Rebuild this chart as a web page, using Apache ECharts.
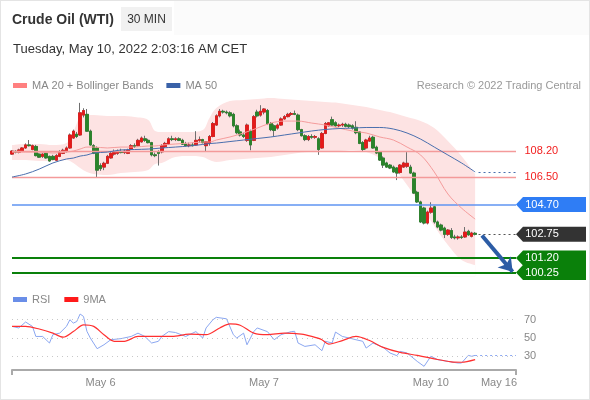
<!DOCTYPE html>
<html><head><meta charset="utf-8">
<script src="https://cdn.jsdelivr.net/npm/echarts@6/dist/echarts.min.js"></script>
<style>
html,body{margin:0;padding:0;background:#fff}
#c{width:590px;height:400px;position:relative}
#f{position:absolute;left:0;top:0;width:590px;height:400px;box-sizing:border-box;border:1px solid #e4e4e4;pointer-events:none}
</style>
</head><body><div id="c"></div><div id="f"></div>
<script>
// ---- data ----
const N_CAT = 149;
const tickIdx = [26, 74, 123, 143];
const tickText = ['May 6', 'May 7', 'May 10', 'May 16'];

const openP = [108.00,108.18,108.12,108.20,108.40,108.60,108.30,108.50,108.00,107.85,108.05,107.85,107.85,107.60,107.85,108.05,108.20,108.40,109.05,109.30,109.25,110.55,110.60,109.50,108.55,108.40,107.25,107.15,107.40,107.75,108.00,108.05,108.15,108.10,108.05,108.30,108.55,108.55,108.80,109.00,108.90,108.75,107.95,108.15,108.15,108.50,108.65,109.00,108.95,109.00,108.90,108.65,108.55,108.60,108.60,108.90,108.95,108.55,108.70,109.15,109.90,110.50,110.80,110.75,110.70,110.60,109.85,109.45,109.25,108.90,109.50,108.90,110.75,110.55,110.75,110.85,110.00,109.85,109.70,109.90,110.30,110.45,110.60,110.65,110.55,109.60,109.20,108.95,109.15,109.10,109.00,108.40,109.35,109.85,110.25,110.05,109.85,109.90,109.95,109.90,109.85,109.75,109.45,108.75,108.40,108.85,109.10,108.45,108.13,107.74,107.42,107.28,107.15,107.09,106.80,107.15,107.20,107.15,106.76,105.50,104.87,104.47,103.49,104.20,104.55,103.56,103.36,103.16,102.75,103.00,102.58,102.52,102.58,102.58,102.95,102.62,102.82];
const closeP = [108.20,108.12,108.27,108.40,108.60,108.55,108.55,107.90,107.80,108.00,107.75,107.55,107.65,107.90,108.15,108.25,108.40,109.25,109.50,109.15,110.70,110.85,109.50,108.60,108.05,106.95,107.05,107.40,107.85,108.05,108.10,108.15,108.10,108.20,108.25,108.55,108.50,108.90,109.05,108.90,108.75,107.95,107.90,108.05,108.55,108.70,109.00,108.95,109.00,108.90,108.65,108.55,108.60,108.55,108.90,108.95,108.75,108.80,109.15,110.00,110.50,110.80,110.75,110.70,110.50,109.85,109.40,109.25,109.15,109.90,108.60,110.45,110.50,110.80,110.95,110.00,109.60,109.55,109.90,110.30,110.45,110.60,110.65,110.60,109.60,109.20,108.95,109.15,109.10,109.15,108.30,109.35,110.00,110.05,109.90,109.85,109.90,109.95,109.82,109.80,109.70,109.40,108.70,108.30,108.92,109.05,108.40,108.07,107.61,107.28,107.15,107.09,106.83,106.76,107.28,107.42,107.40,106.76,105.45,104.87,103.56,103.49,104.21,104.47,103.56,103.23,103.03,102.75,103.03,102.55,102.52,102.58,102.55,102.90,102.72,102.84,102.75];
const lowP = [107.95,108.05,108.05,108.15,108.35,108.50,108.25,107.85,107.75,107.75,107.70,107.50,107.60,107.55,107.80,108.00,108.10,108.35,109.00,109.05,109.20,110.40,109.45,108.55,108.00,106.45,106.90,106.95,107.35,107.70,107.90,107.95,108.05,108.00,108.00,108.25,108.40,108.50,108.75,108.80,108.70,107.85,107.80,107.25,108.05,108.40,108.60,108.85,108.85,108.85,108.60,108.50,108.45,108.50,108.55,108.75,108.70,108.20,108.55,109.10,109.85,110.40,110.65,110.60,110.40,109.75,109.30,109.15,109.05,108.80,108.25,108.85,110.40,110.45,110.60,109.90,109.50,109.15,109.60,109.85,110.25,110.40,110.50,110.55,109.50,109.15,108.85,108.85,109.00,109.00,107.95,108.35,109.30,109.80,109.85,109.80,109.75,109.78,109.75,109.70,109.60,109.30,108.65,108.20,108.30,108.80,108.35,108.00,107.55,107.09,107.10,107.02,106.78,106.30,106.72,107.10,107.10,106.70,105.40,104.80,103.50,103.40,103.40,104.10,103.45,103.15,102.95,102.51,102.65,102.45,102.42,102.40,102.45,102.52,102.65,102.55,102.68];
const highP = [108.25,108.25,108.35,108.45,108.70,108.92,108.62,108.60,108.05,108.05,108.15,107.90,107.95,108.00,108.25,108.35,108.50,109.35,109.60,109.45,111.35,111.00,110.95,109.60,108.65,108.50,107.40,107.50,107.95,108.15,108.30,108.30,108.35,108.30,108.35,108.65,108.70,109.00,109.15,109.20,109.00,108.80,108.10,108.25,108.65,108.80,109.10,109.20,109.10,109.10,109.00,108.80,108.75,108.75,109.50,109.15,109.00,108.85,109.25,110.10,110.60,110.95,110.90,110.85,110.80,110.70,109.95,109.60,109.40,110.00,109.60,110.55,110.90,111.20,111.00,110.95,110.10,109.95,110.00,110.40,110.55,110.70,110.75,110.85,110.65,109.65,109.30,109.25,109.30,109.25,109.10,109.45,110.10,110.10,110.45,110.15,110.00,110.05,110.05,110.00,109.95,110.15,109.50,108.85,109.00,109.20,109.20,108.55,108.20,107.85,107.50,107.35,107.25,107.15,107.35,107.50,108.13,107.30,106.85,105.60,104.95,104.55,104.30,104.85,104.62,103.65,103.45,103.25,103.10,103.16,102.72,102.68,102.70,103.23,103.05,102.92,102.90];

const bandIdx = [0,4,8,12,16,18,20,22,24,28,32,36,40,42,44,48,52,56,58,60,64,68,72,76,80,84,88,92,96,100,104,108,112,116,120,124,128,132,136];
const upperBand = [108.59,108.66,108.66,108.59,108.72,109.44,110.42,110.55,110.55,110.49,110.49,110.42,110.23,109.51,109.44,109.44,109.44,109.57,110.36,111.01,111.47,111.54,111.60,111.67,111.60,111.54,111.47,111.40,111.34,111.21,111.08,110.88,110.69,110.42,110.16,109.70,108.85,107.87,106.70];
const lowerBand = [107.61,107.61,107.55,107.55,107.61,107.42,107.09,106.83,106.70,106.63,106.76,106.83,106.96,107.35,107.42,107.81,107.87,107.81,107.61,107.48,107.61,107.68,107.74,107.81,107.94,108.07,108.13,108.13,108.20,108.27,108.13,107.74,107.09,105.98,104.67,103.29,102.05,101.07,100.74];
const ma20 = [108.13,108.13,108.13,108.07,108.13,108.20,108.33,108.46,108.46,108.40,108.46,108.46,108.53,108.53,108.59,108.66,108.72,108.79,108.79,108.92,109.12,109.38,109.70,110.03,110.16,110.16,110.03,109.90,109.70,109.51,109.38,109.12,108.92,108.46,107.94,106.83,105.39,104.47,103.75];
const ma50 = [106.50,106.70,107.02,107.42,107.68,107.74,107.87,107.94,108.07,108.13,108.27,108.30,108.33,108.36,108.40,108.46,108.53,108.63,108.69,108.72,108.82,108.92,109.02,109.12,109.25,109.38,109.51,109.61,109.67,109.70,109.74,109.74,109.64,109.38,108.98,108.46,107.94,107.42,106.83];
const ma50Projection = 106.83;

const rsiIdx = [0,2,4,6,7,9,11,12,14,16,17,18,19,20,21,22,23,25,27,29,32,35,37,39,41,43,44,46,48,51,54,56,57,59,60,63,65,66,68,69,71,72,75,77,79,82,83,84,86,89,91,92,94,95,97,99,101,103,104,106,109,111,113,114,116,119,121,123,125,128,131,132,134,135,136];
const rsiVal = [62.7,61,67.5,62.7,51.7,51.7,44.5,53.6,55.3,62.7,70,66.3,68,76.2,73.6,57.3,50,38.3,42.6,48.1,49.3,51.7,55.3,51.7,44.5,46.4,51.7,57,56,51.7,57,50,61,70,72.6,71,53.6,50,55.3,42.6,57,61,57,48.1,53.6,57,57.3,44.5,40.8,42.6,36.1,46.4,44.5,56.5,51.7,50,48.1,46.4,39,44.5,39.7,33.6,30.7,35.4,33.6,24.4,19,30,26.3,24.4,22.6,22.6,31,30,31];
const rsiMaIdx = [0,4,8,12,15,18,21,24,27,30,33,37,41,47,52,57,61,64,67,71,75,80,85,88,91,93,97,101,105,109,114,119,124,129,132,136];
const rsiMaVal = [62.7,62.7,59.8,55.3,50.9,57,64.4,62.7,53.6,46.4,46.4,51.7,51.7,51.7,54.2,53.6,61,65.5,64,55.3,53.6,55.3,54.2,51.7,48.1,43.4,47.2,51.7,47.2,39.7,34.2,31,27.2,23.9,23.5,26.3];
const rsiProjection = 31;

const resistance = [108.20, 106.50];
const pivot = 104.70;
const lastPrice = 102.75;
const support = [101.20, 100.25];
const rsiLevels = [70, 50, 30];

// ---- build ----
const FONT = '"Liberation Sans", Arial, sans-serif';
const categories = Array.from({length: N_CAT}, (_, i) => String(i));
const lastIdx = openP.length - 1;
const endIdx = N_CAT - 1;
const pairs = (xs, ys) => xs.map((x, i) => [x, ys[i]]);
const ohlc = openP.map((o, i) => [o, closeP[i], lowP[i], highP[i]]);
const bodies = openP.map((o, i) => [o, closeP[i], Math.min(o, closeP[i]), Math.max(o, closeP[i])]);

const TAG = 'path://M0,7.5L7,0L70,0L70,15L7,15Z';
function tag(v, color) {
  return {
    coord: [endIdx, v], value: v, symbol: TAG, symbolSize: [70, 15], symbolOffset: [35, 0],
    itemStyle: {color: color},
    label: {show: true, position: 'inside', offset: [-9, 0], color: '#fff', fontSize: 11, fontFamily: FONT,
      formatter: () => v.toFixed(2)}
  };
}
function textTag(v, color) {
  return {
    coord: [endIdx, v], value: v, symbol: 'rect', symbolSize: [1, 1], itemStyle: {color: 'rgba(0,0,0,0)'},
    label: {show: true, position: 'right', distance: 8, color: color, fontSize: 11, fontFamily: FONT,
      formatter: () => v.toFixed(2)}
  };
}

const chart = echarts.init(document.getElementById('c'), null, {renderer: 'canvas'});
chart.setOption({
  animation: false,
  backgroundColor: '#fff',
  textStyle: {fontFamily: FONT},
  graphic: [
    {type: 'rect', shape: {x: 174, y: 1, width: 415, height: 34}, style: {fill: '#fbfbfb'}, silent: true, z: -10},
    {type: 'text', x: 12, y: 20, style: {text: 'Crude Oil (WTI)', font: 'bold 14px ' + FONT, fill: '#333', verticalAlign: 'middle'}},
    {type: 'rect', shape: {x: 121, y: 7, width: 51, height: 24}, style: {fill: '#f1f1f1'}},
    {type: 'text', x: 146.5, y: 19.5, style: {text: '30 MIN', font: '12px ' + FONT, fill: '#333', align: 'center', verticalAlign: 'middle'}},
    {type: 'text', x: 13, y: 49, style: {text: 'Tuesday, May 10, 2022 2:03:16 AM CET', font: '13px ' + FONT, fill: '#333', verticalAlign: 'middle'}},
    {type: 'text', x: 581, y: 86, style: {text: 'Research \u00a9 2022 Trading Central', font: '11px ' + FONT, fill: '#999', align: 'right', verticalAlign: 'middle'}}
  ],
  legend: [
    {data: [{name: 'MA 20 + Bollinger Bands', itemStyle: {color: '#ff8080'}}, {name: 'MA 50', itemStyle: {color: '#3a62a8'}}],
     left: 13, top: 80, icon: 'rect', itemWidth: 14, itemHeight: 5, itemGap: 13, padding: 0, selectedMode: false,
     textStyle: {color: '#888', fontSize: 11, fontFamily: FONT}},
    {data: [{name: 'RSI', itemStyle: {color: '#6a8ee8'}}, {name: '9MA', itemStyle: {color: '#ff1a1a'}}],
     left: 13, top: 294, icon: 'rect', itemWidth: 14, itemHeight: 5, itemGap: 14, padding: 0, selectedMode: false,
     textStyle: {color: '#888', fontSize: 11, fontFamily: FONT}}
  ],
  grid: [
    {left: 12, right: 74, top: 96, height: 180.4},
    {left: 12, right: 74, top: 306, height: 64}
  ],
  xAxis: [
    {type: 'category', gridIndex: 0, data: categories, boundaryGap: false, show: false},
    {type: 'category', gridIndex: 1, data: categories, boundaryGap: false,
     axisLine: {show: true, lineStyle: {color: '#aaa', width: 2}},
     axisTick: {show: true, length: 5, interval: (i) => i === 0 || i === endIdx, lineStyle: {color: '#aaa', width: 2}},
     axisLabel: {show: true, color: '#888', fontSize: 11, fontFamily: FONT, margin: 7,
       interval: (i) => tickIdx.indexOf(i) >= 0,
       formatter: (v, i) => tickText[tickIdx.indexOf(i)] || ''},
     splitLine: {show: false}}
  ],
  yAxis: [
    {type: 'value', gridIndex: 0, min: 100, max: 111.8, show: false},
    {type: 'value', gridIndex: 1, min: 15, max: 85, show: false}
  ],
  series: [
    {type: 'line', name: 'bandUpper', xAxisIndex: 0, yAxisIndex: 0, data: pairs(bandIdx, upperBand),
     smooth: 0.35, symbol: 'none', silent: true, lineStyle: {opacity: 0}, areaStyle: {color: '#fde3e3', opacity: 1, origin: 'start'}, z: 1},
    {type: 'line', name: 'bandLower', xAxisIndex: 0, yAxisIndex: 0, data: pairs(bandIdx, lowerBand),
     smooth: 0.35, symbol: 'none', silent: true, lineStyle: {opacity: 0}, areaStyle: {color: '#ffffff', opacity: 1, origin: 'start'}, z: 1},
    {type: 'line', name: 'MA 20 + Bollinger Bands', xAxisIndex: 0, yAxisIndex: 0, data: pairs(bandIdx, ma20),
     smooth: 0.35, symbol: 'none', lineStyle: {color: '#f59c9c', width: 1}, itemStyle: {color: '#ff8080'}, z: 5},
    {type: 'line', name: 'MA 50', xAxisIndex: 0, yAxisIndex: 0, data: pairs(bandIdx, ma50),
     smooth: 0.35, symbol: 'none', lineStyle: {color: '#4a6fae', width: 1}, itemStyle: {color: '#3a62a8'}, z: 5,
     markLine: {silent: true, symbol: 'none', label: {show: false},
       lineStyle: {type: [2, 3], color: '#4a6fae', width: 1},
       data: [[{coord: [lastIdx + 1, ma50Projection]}, {coord: [endIdx, ma50Projection]}]]}},
    {type: 'candlestick', name: 'wick', xAxisIndex: 0, yAxisIndex: 0, data: ohlc, barWidth: 3, z: 3,
     itemStyle: {color: '#6f6f6f', color0: '#6f6f6f', borderColor: '#6f6f6f', borderColor0: '#6f6f6f', borderWidth: 1},
     markLine: {silent: true, symbol: 'none', label: {show: false},
       data: [
         ...resistance.map(v => ({yAxis: v, lineStyle: {color: '#f49a9a', width: 1.3, type: 'solid'}})),
         {yAxis: pivot, lineStyle: {color: '#5f95f2', width: 1.5, type: 'solid'}},
         ...support.map(v => ({yAxis: v, lineStyle: {color: '#0a800a', width: 2, type: 'solid'}}))
       ]}},
    {type: 'candlestick', name: 'body', xAxisIndex: 0, yAxisIndex: 0, data: bodies, barWidth: 3, z: 4,
     itemStyle: {color: '#e51a1a', color0: '#2a842a', borderColor: '#e51a1a', borderColor0: '#2a842a', borderWidth: 0.8},
     markLine: {silent: true, label: {show: false},
       data: [
         [{coord: [lastIdx + 1, lastPrice], symbol: 'none', lineStyle: {type: [2, 3], color: '#555', width: 1}}, {coord: [endIdx, lastPrice], symbol: 'none'}],
         [{coord: [lastIdx + 2, lastPrice - 0.08], symbol: 'none', lineStyle: {color: '#2c5ca5', width: 4, type: 'solid'}},
          {coord: [endIdx - 1, support[1] + 0.05], symbol: 'arrow', symbolSize: 13}]
       ]},
     markPoint: {silent: true, data: [
       ...resistance.map(v => textTag(v, '#f21d1d')),
       tag(pivot, '#2f7df5'),
       tag(lastPrice, '#333333'),
       ...support.map(v => tag(v, '#0a800a'))
     ]}},
    {type: 'line', name: 'RSI', xAxisIndex: 1, yAxisIndex: 1, data: pairs(rsiIdx, rsiVal),
     symbol: 'none', lineStyle: {color: '#8ba7f1', width: 1}, itemStyle: {color: '#6a8ee8'}, z: 4,
     markLine: {silent: true, symbol: 'none',
       data: [
         ...rsiLevels.map(v => ({yAxis: v, lineStyle: {type: [1, 4], color: '#c8c8c8', width: 1},
           label: {show: true, position: 'end', distance: 8, color: '#888', fontSize: 11, fontFamily: FONT, formatter: String(v)}})),
         [{coord: [lastIdx, rsiProjection], lineStyle: {type: [2, 3], color: '#8ba7f1', width: 1}, label: {show: false}}, {coord: [endIdx, rsiProjection]}]
       ]}},
    {type: 'line', name: '9MA', xAxisIndex: 1, yAxisIndex: 1, data: pairs(rsiMaIdx, rsiMaVal),
     smooth: 0.3, symbol: 'none', lineStyle: {color: '#ff3030', width: 1.2}, itemStyle: {color: '#ff1a1a'}, z: 5}
  ]
});
</script>
</body></html>
